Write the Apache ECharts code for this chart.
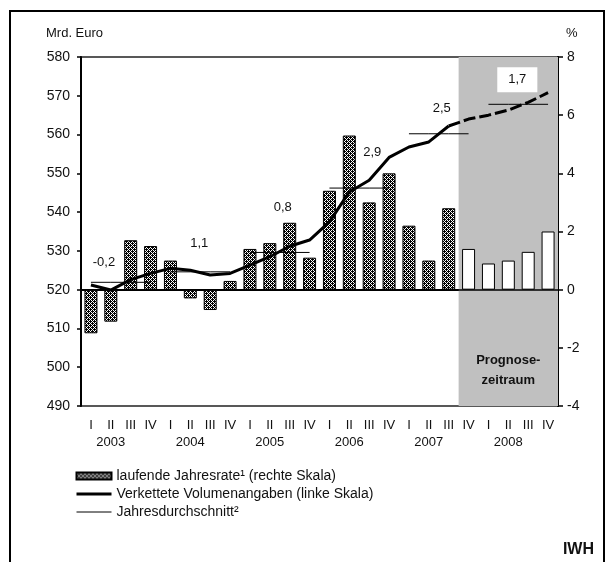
<!DOCTYPE html>
<html>
<head>
<meta charset="utf-8">
<script src="https://cdn.jsdelivr.net/npm/echarts@6/dist/echarts.min.js"></script>
<style>
  html, body { margin: 0; padding: 0; background: #fff; }
  #chart { width: 614px; height: 562px; }
</style>
</head>
<body>
<div id="chart"></div>
<script>
  // Quartale 2003 I bis 2008 IV
  const years = ['2003', '2004', '2005', '2006', '2007', '2008']
  const quarters = ['I', 'II', 'III', 'IV']
  const categories = []
  years.forEach(function (y) { quarters.forEach(function (q) { categories.push(y + ' ' + q) }) })

  // Verkettete Volumenangaben, Mrd. Euro (linke Skala)
  const volumen = [521.2, 519.9, 522.6, 524.2, 525.5, 525.0, 523.8, 524.2, 526.3, 528.5, 531.2, 532.8,
    537.5, 545.2, 548.2, 554.1, 556.8, 558.1, 562.2, 564.0, 565.0, 566.3, 568.3, 570.8]
  // laufende Jahresrate in % (rechte Skala)
  const jahresrate = [-1.5, -1.1, 1.7, 1.5, 1.0, -0.3, -0.7, 0.3, 1.4, 1.6, 2.3, 1.1,
    3.4, 5.3, 3.0, 4.0, 2.2, 1.0, 2.8, 1.4, 0.9, 1.0, 1.3, 2.0]
  // Jahresdurchschnitt (Niveau, linke Skala) und Veränderungsrate als Beschriftung
  const jahresNiveau = [521.9, 524.6, 529.6, 546.2, 560.2, 567.8]
  const jahresRate = ['-0,2', '1,1', '0,8', '2,9', '2,5', '1,7']
  const prognoseAb = '2007 IV'
  const gestricheltAb = '2007 III'

  const font = 'Liberation Sans, Arial, sans-serif'

  // Punktraster für die Säulen
  function makePattern() {
    const c = document.createElement('canvas')
    c.width = 4
    c.height = 4
    const ctx = c.getContext('2d')
    ctx.fillStyle = '#fff'
    ctx.fillRect(0, 0, 4, 4)
    ctx.fillStyle = '#000'
    const px = ['X.X.', '.XXX', 'X.X.', 'XX.X']
    px.forEach(function (row, y) {
      for (let x = 0; x < 4; x++) if (row[x] === 'X') ctx.fillRect(x, y, 1, 1)
    })
    return c
  }
  const pattern = { image: makePattern(), repeat: 'repeat' }

  const startIdx = categories.indexOf(prognoseAb)
  const dashIdx = categories.indexOf(gestricheltAb)

  // Lage der Jahresbeschriftungen (Quartal im Jahr, Versatz)
  const labelPos = [[0, 13, -13], [1, 9, -22], [1, 13, -39], [2, 3, -29], [2, -7, -19], [1, 9, -12]]

  const avgSeries = years.map(function (y, k) {
    return {
      type: 'line',
      name: 'Jahresdurchschnitt²',
      yAxisIndex: 0,
      symbol: 'circle',
      symbolSize: 0,
      z: 3,
      lineStyle: { color: '#000', width: 1 },
      itemStyle: { color: '#000' },
      data: categories.map(function (c, i) {
        if (Math.floor(i / 4) !== k) return null
        const item = { value: jahresNiveau[k] }
        if (i % 4 === labelPos[k][0]) {
          item.label = {
            show: true,
            position: 'top',
            distance: 0,
            offset: [labelPos[k][1], labelPos[k][2]],
            formatter: jahresRate[k],
            fontFamily: font,
            fontSize: 13,
            color: '#111',
            backgroundColor: k === years.length - 1 ? '#fff' : 'transparent',
            padding: k === years.length - 1 ? [6, 11] : 0
          }
        }
        return item
      })
    }
  })

  const chart = echarts.init(document.getElementById('chart'))
  chart.setOption({
    animation: false,
    backgroundColor: '#fff',
    textStyle: { fontFamily: font },
    grid: { left: 81, right: 56, top: 57, bottom: 156, show: true, borderColor: '#222', borderWidth: 1.5 },
    legend: {
      orient: 'vertical',
      left: 75,
      top: 469,
      padding: 0,
      itemWidth: 35,
      itemHeight: 7,
      itemGap: 4,
      textStyle: { fontFamily: font, fontSize: 14, color: '#111' },
      data: [
        { name: 'laufende Jahresrate¹ (rechte Skala)', icon: 'rect' },
        { name: 'Verkettete Volumenangaben (linke Skala)', itemStyle: { opacity: 0 }, lineStyle: { width: 3 } },
        { name: 'Jahresdurchschnitt²', itemStyle: { opacity: 0 }, lineStyle: { width: 1 } }
      ]
    },
    xAxis: [{
      type: 'category',
      data: categories,
      axisLine: { lineStyle: { color: '#000', width: 2 } },
      axisTick: { interval: function (i) { return i % 4 === 0 }, length: 5, lineStyle: { color: '#000', width: 1.5 } },
      axisLabel: {
        interval: 0,
        margin: 11,
        fontSize: 13,
        lineHeight: 17,
        color: '#111',
        formatter: function (v) {
          const p = v.split(' ')
          return p[1] === 'II' ? p[1] + '\n' + p[0] : p[1]
        }
      }
    }, {
      type: 'value',
      min: 0,
      max: categories.length,
      show: false
    }],
    yAxis: [{
      type: 'value',
      min: 490,
      max: 580,
      interval: 10,
      axisLine: { show: true, lineStyle: { color: '#000', width: 2 } },
      axisTick: { show: true, length: 4, lineStyle: { color: '#000', width: 1.5 } },
      axisLabel: { fontSize: 14, color: '#111', margin: 11 },
      splitLine: { show: false }
    }, {
      type: 'value',
      min: -4,
      max: 8,
      interval: 2,
      position: 'right',
      axisLine: { show: true, lineStyle: { color: '#000', width: 2 } },
      axisTick: { show: true, length: 5, lineStyle: { color: '#000', width: 1.5 } },
      axisLabel: { fontSize: 14, color: '#111', margin: 9 },
      splitLine: { show: false }
    }],
    series: [{
      type: 'line',
      name: 'Prognosezeitraum',
      xAxisIndex: 1,
      yAxisIndex: 0,
      data: [],
      z: 1,
      markArea: {
        silent: true,
        itemStyle: { color: '#c0c0c0' },
        label: {
          show: true,
          position: 'insideBottom',
          distance: 16,
          formatter: 'Prognose-\nzeitraum',
          fontFamily: font,
          fontSize: 13,
          fontWeight: 'bold',
          lineHeight: 20,
          color: '#111'
        },
        data: [[{ xAxis: startIdx }, { xAxis: categories.length }]]
      }
    }, {
      type: 'bar',
      name: 'laufende Jahresrate¹ (rechte Skala)',
      yAxisIndex: 1,
      barWidth: 13,
      z: 2,
      itemStyle: { color: pattern, borderColor: '#000', borderWidth: 1 },
      data: jahresrate.map(function (v, i) {
        return i >= startIdx ? { value: v, itemStyle: { color: '#fff' } } : v
      }),
      markLine: {
        silent: true,
        symbol: 'none',
        label: { show: false },
        lineStyle: { color: '#000', width: 1.5, type: 'solid' },
        data: [{ yAxis: 0 }]
      }
    }, {
      type: 'line',
      name: 'Verkettete Volumenangaben (linke Skala)',
      yAxisIndex: 0,
      symbol: 'none',
      z: 4,
      lineStyle: { color: '#000', width: 3 },
      itemStyle: { color: '#000' },
      data: volumen.map(function (v, i) { return i <= dashIdx ? v : null })
    }, {
      type: 'line',
      name: 'Prognose',
      yAxisIndex: 0,
      symbol: 'none',
      z: 4,
      lineStyle: { color: '#000', width: 3, type: [12, 4] },
      data: volumen.map(function (v, i) { return i >= dashIdx ? v : null })
    }].concat(avgSeries),
    graphic: [{
      type: 'rect',
      shape: { x: 10, y: 11, width: 594, height: 600 },
      style: { fill: 'none', stroke: '#000', lineWidth: 2 },
      silent: true
    }, {
      type: 'text',
      left: 46,
      top: 27,
      style: { text: 'Mrd. Euro', font: '13px ' + font, fill: '#111' }
    }, {
      type: 'text',
      left: 566,
      top: 27,
      style: { text: '%', font: '13px ' + font, fill: '#111' }
    }, {
      type: 'text',
      right: 20,
      top: 542,
      style: { text: 'IWH', font: 'bold 16px ' + font, fill: '#111' }
    }]
  })
</script>
</body>
</html>
